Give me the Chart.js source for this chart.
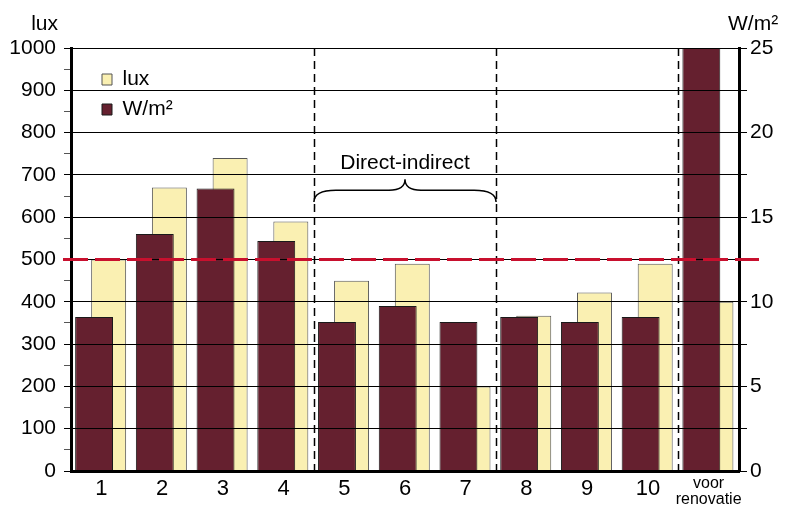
<!DOCTYPE html>
<html>
<head>
<meta charset="utf-8">
<script src="https://cdn.jsdelivr.net/npm/chart.js@4.4.1/dist/chart.umd.min.js"></script>
<style>
  html, body { margin: 0; padding: 0; background: #fff; }
  canvas { display: block; }
</style>
</head>
<body>
<canvas id="chart" width="785" height="511"></canvas>
<script>
const categories = ['1', '2', '3', '4', '5', '6', '7', '8', '9', '10', ['voor', 'renovatie']];
const luxValues = [500, 670, 740, 590, 450, 490, 200, 367, 422, 490, 400];
const wattValues = [9.1, 14, 16.7, 13.6, 8.8, 9.75, 8.8, 9.1, 8.8, 9.1, 25];
const luxRange = [0, 1000];
const wattRange = [0, 25];
const normLux = 500;
const groupStarts = [4, 7, 10];   // dashed separator before these categories
const braceGroup = [4, 6];        // categories under the brace
const braceLabel = 'Direct-indirect';

const FONT = "'Liberation Sans', Arial, sans-serif";
const MAROON = '#65202F';
const CREAM = '#FAF0B2';

Chart.defaults.font.family = FONT;
Chart.defaults.color = '#000';

const overlays = {
  id: 'overlays',
  afterLayout(chart) {
    // legend lives inside the plot, nudge it off the corner
    chart.legend.left = chart.chartArea.left + 22;
    chart.legend.top = chart.chartArea.top + 12;
  },
  afterDraw(chart) {
    const {ctx, chartArea: area, scales: {x, yLux}} = chart;
    ctx.save();

    // group separators
    ctx.strokeStyle = '#000';
    ctx.lineWidth = 1.5;
    ctx.setLineDash([8, 5]);
    groupStarts.forEach(i => {
      const px = Math.round(x.getPixelForValue(i - 0.5)) + 0.5;
      ctx.beginPath();
      ctx.moveTo(px, area.top);
      ctx.lineTo(px, area.bottom);
      ctx.stroke();
    });

    // norm line
    const ny = yLux.getPixelForValue(normLux);
    ctx.strokeStyle = '#C8102E';
    ctx.lineWidth = 3;
    ctx.setLineDash([25, 7]);
    ctx.beginPath();
    ctx.moveTo(area.left - 8, ny);
    ctx.lineTo(area.right + 20, ny);
    ctx.stroke();

    // brace + label
    const x0 = x.getPixelForValue(braceGroup[0] - 0.5);
    const x1 = x.getPixelForValue(braceGroup[1] + 0.5);
    const xm = (x0 + x1) / 2;
    const yEnd = yLux.getPixelForValue(636);
    const yFlat = yLux.getPixelForValue(664);
    const yTip = yLux.getPixelForValue(690);
    ctx.setLineDash([]);
    ctx.lineWidth = 1.5;
    ctx.strokeStyle = '#000';
    ctx.beginPath();
    ctx.moveTo(x0, yEnd);
    ctx.quadraticCurveTo(x0, yFlat, x0 + 22, yFlat);
    ctx.lineTo(xm - 16, yFlat);
    ctx.quadraticCurveTo(xm, yFlat, xm, yTip);
    ctx.quadraticCurveTo(xm, yFlat, xm + 16, yFlat);
    ctx.lineTo(x1 - 22, yFlat);
    ctx.quadraticCurveTo(x1, yFlat, x1, yEnd);
    ctx.stroke();

    ctx.fillStyle = '#000';
    ctx.font = '21px ' + FONT;
    ctx.textAlign = 'center';
    ctx.textBaseline = 'middle';
    ctx.fillText(braceLabel, xm, yLux.getPixelForValue(728));

    // axis units
    ctx.font = '21px ' + FONT;
    ctx.textBaseline = 'alphabetic';
    ctx.textAlign = 'right';
    ctx.fillText('lux', 58, 30);
    ctx.textAlign = 'left';
    ctx.fillText('W/m²', 728, 30);
    ctx.restore();
  }
};

new Chart(document.getElementById('chart'), {
  type: 'bar',
  data: {
    labels: categories,
    datasets: [
      {
        label: 'W/m²',
        data: wattValues,
        yAxisID: 'yWatt',
        backgroundColor: MAROON,
        borderColor: '#1a1a1a',
        borderWidth: 1,
        categoryPercentage: 0.48,
        barPercentage: 2.6
      },
      {
        label: 'lux',
        data: luxValues,
        yAxisID: 'yLux',
        backgroundColor: CREAM,
        borderColor: '#555',
        borderWidth: 1,
        categoryPercentage: 0.48,
        barPercentage: 2.4
      }
    ]
  },
  options: {
    responsive: false,
    animation: false,
    layout: { padding: { top: 48, left: 0, right: 0, bottom: 0 } },
    plugins: {
      tooltip: { enabled: false },
      legend: {
        position: 'chartArea',
        align: 'start',
        reverse: true,
        labels: {
          boxWidth: 10,
          boxHeight: 11,
          padding: 9,
          font: { size: 21 },
          color: '#000'
        }
      }
    },
    scales: {
      x: {
        grid: { display: false, drawTicks: false },
        border: { width: 3, color: '#000', z: 2 },
        ticks: {
          autoSkip: false,
          maxRotation: 0,
          padding: 5,
          color: '#000',
          font: ctx => ctx.index === categories.length - 1
            ? { size: 16, lineHeight: 1 }
            : { size: 22 }
        },
        afterFit: s => { s.height = 40; }
      },
      yLux: {
        position: 'left',
        min: luxRange[0],
        max: luxRange[1],
        border: { width: 3, color: '#000', z: 2 },
        grid: {
          z: 1,
          // full lines every 100, only a tick mark at the 50s
          color: ctx => ctx.index % 2 === 0 ? '#000' : 'rgba(0,0,0,0)',
          tickColor: ctx => ctx.index % 2 === 0 ? '#000' : '#555',
          tickLength: 7,
          lineWidth: 1
        },
        ticks: {
          stepSize: 50,
          autoSkip: false,
          padding: 8,
          color: '#000',
          font: { size: 21 },
          callback: (v, i) => i % 2 === 0 ? v : ''
        },
        afterFit: s => { s.width = 71; }
      },
      yWatt: {
        position: 'right',
        min: wattRange[0],
        max: wattRange[1],
        border: { width: 3, color: '#000', z: 2 },
        grid: { drawOnChartArea: false, tickLength: 8, color: '#000', z: 1 },
        ticks: {
          stepSize: 2.5,
          autoSkip: false,
          padding: 3,
          color: '#000',
          font: { size: 21 },
          callback: (v, i) => i % 2 === 0 ? v : ''
        },
        afterFit: s => { s.width = 46; }
      }
    }
  },
  plugins: [overlays]
});
</script>
</body>
</html>
